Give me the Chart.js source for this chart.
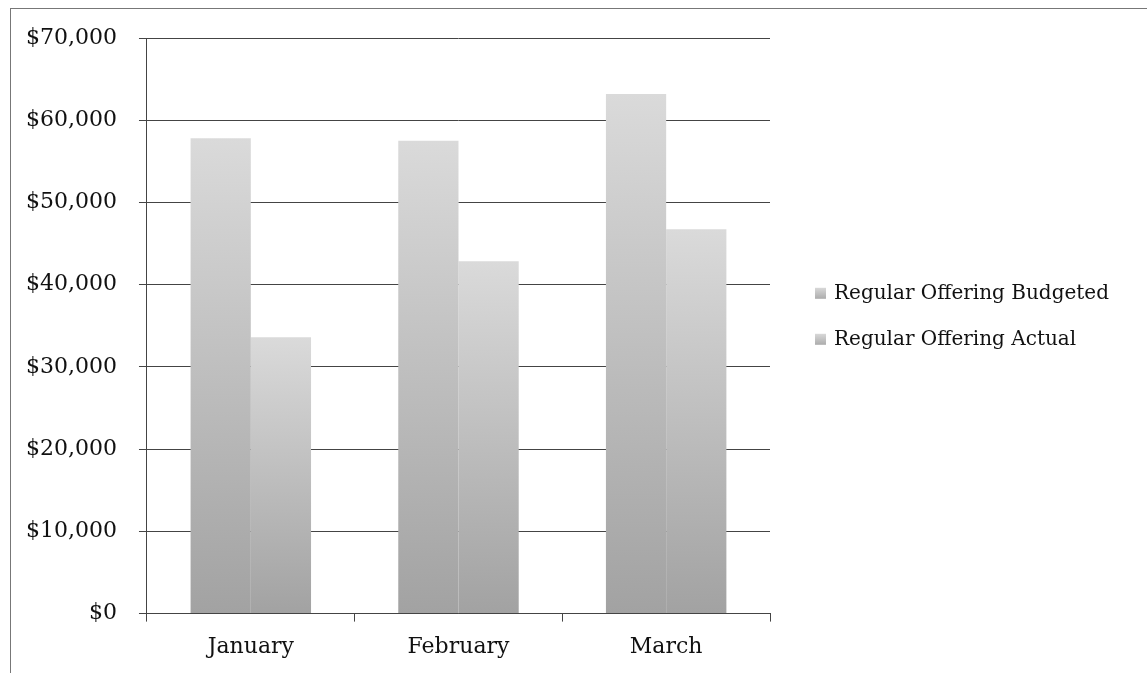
<!DOCTYPE html>
<html>
<head>
<meta charset="utf-8">
<script src="https://cdn.jsdelivr.net/npm/chart.js@4.4.1/dist/chart.umd.min.js"></script>
<style>
  html, body { margin: 0; padding: 0; background: #fff; overflow: hidden; }
  #wrap { position: relative; width: 1147px; height: 673px; }
  #frame { position: absolute; left: 10px; top: 8px; width: 1200px; height: 700px;
           border-left: 1px solid #777; border-top: 1px solid #777; }
  #myChart { position: absolute; left: 0; top: 0; }
</style>
</head>
<body>
<div id="wrap">
  <div id="frame"></div>
  <canvas id="myChart" width="1147" height="673"></canvas>
</div>
<script>
const months = ['January', 'February', 'March'];
const budgeted = [57800, 57500, 63200];
const actual = [33600, 42850, 46750];

const serif = 'DejaVu Serif';

// light at the top of each bar, darker at the base
function barFill(c) {
    const chart = c.chart;
    if (c.type !== 'data' || !chart.chartArea) return '#c6c6c6';
    const y = chart.scales.y;
    const top = y.getPixelForValue(c.parsed.y);
    const bottom = y.getPixelForValue(0);
    const g = chart.ctx.createLinearGradient(0, top, 0, bottom);
    g.addColorStop(0, '#dadada');
    g.addColorStop(1, '#a2a2a2');
    return g;
}

// the built-in right legend is capped at a quarter of the width, so draw it here
const sideLegend = {
    id: 'sideLegend',
    afterDraw(chart) {
        const c = chart.ctx;
        const area = chart.chartArea;
        const x = area.right + 45;
        const mid = (area.top + area.bottom) / 2;
        c.save();
        c.font = '20px "' + serif + '"';
        c.textBaseline = 'middle';
        c.textAlign = 'left';
        chart.data.datasets.forEach((ds, i) => {
            const cy = mid + (i - 0.5) * 46 - 9;
            const g = c.createLinearGradient(0, cy - 6, 0, cy + 6);
            g.addColorStop(0, '#d8d8d8');
            g.addColorStop(1, '#a8a8a8');
            c.fillStyle = g;
            c.fillRect(x, cy - 6, 11, 11);
            c.fillStyle = '#111';
            c.fillText(ds.label, x + 19, cy);
        });
        c.restore();
    }
};

const ctx = document.getElementById('myChart');

new Chart(ctx, {
    type: 'bar',
    data: {
        labels: months,
        datasets: [{
            label: 'Regular Offering Budgeted',
            data: budgeted,
            backgroundColor: barFill,
            borderWidth: 0,
            categoryPercentage: 0.58,
            barPercentage: 1.0
        }, {
            label: 'Regular Offering Actual',
            data: actual,
            backgroundColor: barFill,
            borderWidth: 0,
            categoryPercentage: 0.58,
            barPercentage: 1.0
        }]
    },
    plugins: [sideLegend],
    options: {
        responsive: false,
        animation: false,
        devicePixelRatio: 1,
        layout: {
            padding: { left: 4, top: 38, right: 377, bottom: 0 }
        },
        scales: {
            x: {
                grid: {
                    display: true,
                    drawOnChartArea: false,
                    drawTicks: true,
                    tickLength: 8,
                    color: '#444'
                },
                border: { display: true, color: '#444', width: 1 },
                ticks: {
                    color: '#111',
                    padding: 12.5,
                    font: { family: serif, size: 22 }
                }
            },
            y: {
                min: 0,
                max: 70000,
                grid: {
                    display: true,
                    drawTicks: true,
                    tickLength: 8,
                    color: '#444',
                    lineWidth: 1
                },
                border: { display: true, color: '#444', width: 1 },
                ticks: {
                    stepSize: 10000,
                    color: '#111',
                    padding: 22,
                    font: { family: serif, size: 22 },
                    callback: v => '$' + v.toLocaleString('en-US')
                }
            }
        },
        plugins: {
            legend: { display: false },
            tooltip: { enabled: false }
        }
    }
});
</script>
</body>
</html>
